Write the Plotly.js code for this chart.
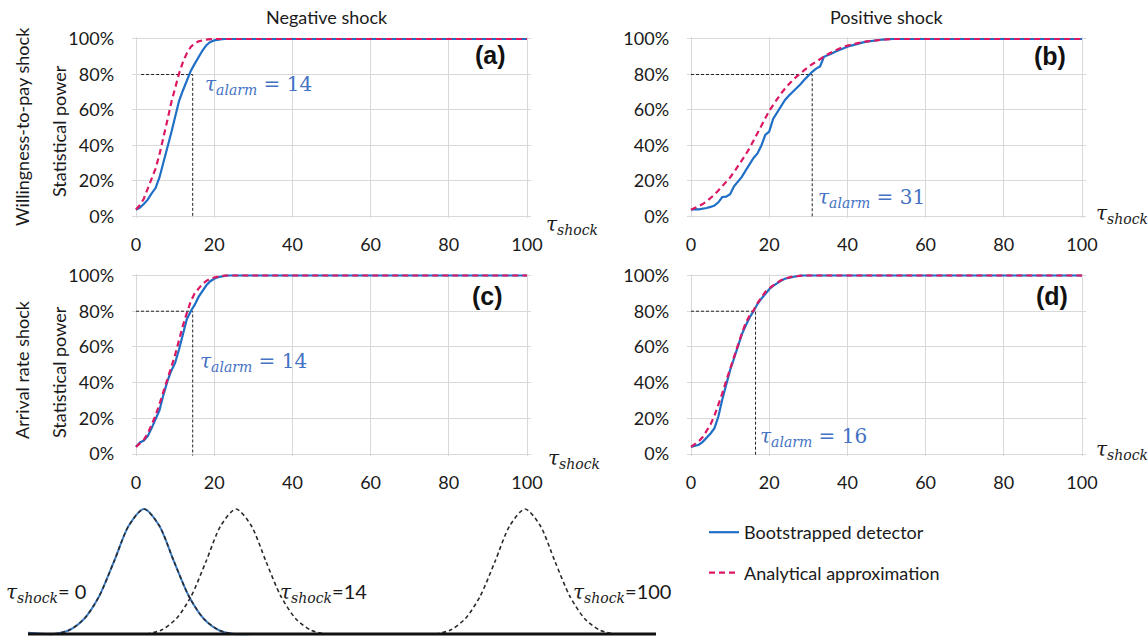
<!DOCTYPE html>
<html><head><meta charset="utf-8">
<script src="https://cdn.plot.ly/plotly-3.0.1.min.js"></script>
<style>html,body{margin:0;padding:0;background:#fff}#chart{width:1148px;height:641px}</style>
</head><body><div id="chart"></div>
<script>
// ---------- data ----------
const tau = [0,1,2,3,4,5,6,7,8,9,10,11,12,13,14,15,16,17,18,19,20,21,22,23,24,25,26,27,28,29,30,
             31,32,33,34,35,36,37,38,39,40,41,42,43,44,45,46,47,48,49,50,51,52];
const xTickVals = [0,20,40,60,80,100];
const xTickText = ['0','20','40','60','80','100'];
const yTickVals = [0,20,40,60,80,100];
const yTickText = ['0%','20%','40%','60%','80%','100%'];

// (a) willingness-to-pay, negative shock
const bootA = [3.8,5,7,9.5,13,16,22,30,38,47,56,65,71,77,82,86,90,93.5,96.5,98.3,99.2,99.7,99.9,100];
const analA = [4,6.5,10,15.5,21,27,35,44,54,64,73,80.5,87,92,95.5,97.5,98.7,99.4,99.7,99.9,100];
// (b) willingness-to-pay, positive shock
const bootB = [3.8,4.2,4.0,4.3,4.8,5.4,6.2,8,11,11.2,12.5,17,19.5,22.3,26,29.5,33,35.5,40,46,47.8,55,58.5,62,65.5,68,70,72,74.5,77,79.5,
               81.5,83.3,84.5,90,90.8,91.8,93,94,94.8,95.6,96.3,97,97.6,98.1,98.5,98.9,99.3,99.5,99.7,99.85,99.9,100];
const analB = [3.8,4.8,5.8,7,8.5,10.2,12.3,14.7,17,19.5,22,25,28.2,31.5,35,38.6,42.8,47,51,55.3,59.5,62.8,66.2,69.2,72,74.5,76.8,78.8,80.8,82.7,84.3,
               85.8,87.3,88.8,90.2,91.4,92.6,93.7,94.7,95.6,96.3,96.9,97.4,97.9,98.3,98.7,99,99.3,99.5,99.7,99.8,99.9,100];
// (c) arrival rate, negative shock
const bootC = [4,6.5,7.5,10,14.5,19.5,24.5,33,40.5,46.5,51,58.5,67,75.5,80,83.5,88,91.5,94.5,96.8,98.2,99,99.6,99.9,100];
const analC = [4,5.8,8,11.5,16.5,21.5,28,34.5,41,48.5,55.5,64,72,79,85.5,90,92.9,95.3,97,98.2,98.9,99.5,99.8,100];
// (d) arrival rate, positive shock
const bootD = [4,4.5,5.2,6.8,9,11.5,14.5,21,30.5,39.5,47,53.5,60,67,72,76.5,80,84,87,90,92.3,94.2,95.8,97,98.2,98.8,99.3,99.6,99.9,100];
const analD = [4,5.5,7.2,9.5,12.8,16.5,21.5,27.5,34,41,48,54.5,61,67.5,73.5,77.5,80.5,84.5,88,90.8,92.8,94.5,96,97.3,98.2,98.9,99.4,99.7,99.9,100];

const alarmTau = [14.5, 31, 14.5, 16.5];
const alarmLabel = [14, 31, 14, 16];
const alarmStart = [1.3, 0, 0, 0];
const alarmPower = 80;

const colTitles = ['Negative shock', 'Positive shock'];
const rowTitles = ['Willingness-to-pay shock', 'Arrival rate shock'];
const powerTitle = 'Statistical power';
const panelLetters = ['(a)', '(b)', '(c)', '(d)'];
const seriesNames = ['Bootstrapped detector', 'Analytical approximation'];

// schematic distributions (illustration units)
const bellOffset = [-90,-75,-60,-45,-30,-15,0,15,30,45,60,75,90];
const bellHeight = [0,0.03,0.12,0.3,0.58,0.87,1,0.87,0.58,0.3,0.12,0.03,0];
const bellCenters = [116, 208, 497];
const bellLabels = ['0', '14', '100'];
const baseLine = [0, 628];

// ---------- layout helpers ----------
const W = 1148, H = 641;
const px = v => v / W;
const py = v => 1 - v / H;
const BLUE = '#1f6fc6', PINK = '#dc1763', ALARM = '#4472c4';
const TXT = '#1a1a1a';
const SANS = 'Lato, "Open Sans", sans-serif';
const SERIF = '"DejaVu Serif", serif';

// panels: [x0px, x100px, y0px, y100px]
const panels = [
  [136, 527, 216.5, 39],
  [691, 1082, 216.5, 39],
  [136, 527, 454, 275.5],
  [691, 1082, 454, 275.5]
];
const boots = [bootA, bootB, bootC, bootD];
const anals = [analA, analB, analC, analD];

const traces = [];
const layout = {
  width: W, height: H,
  margin: {l: 0, r: 0, t: 0, b: 0},
  paper_bgcolor: '#fff', plot_bgcolor: '#fff',
  showlegend: true,
  legend: {
    x: px(704), y: py(514), xanchor: 'left', yanchor: 'top',
    font: {family: SANS, size: 18, color: TXT},
    bgcolor: 'rgba(0,0,0,0)', traceorder: 'grouped', tracegroupgap: 14
  },
  annotations: [], shapes: []
};

panels.forEach((p, i) => {
  const [x0, x100, y0, y100] = p;
  const sx = (x100 - x0) / 100, sy = (y0 - y100) / 100;
  const n = i + 1;
  const xa = 'xaxis' + (n === 1 ? '' : n), ya = 'yaxis' + (n === 1 ? '' : n);
  const xr = 'x' + (n === 1 ? '' : n), yr = 'y' + (n === 1 ? '' : n);
  layout[xa] = {
    domain: [px(x0 - sx), px(x100 + sx)], range: [-1, 101], anchor: yr,
    tickvals: xTickVals, ticktext: xTickText, showgrid: true, gridcolor: '#d9d9d9', gridwidth: 1,
    zeroline: false, showline: false, ticks: '', ticklabelstandoff: 14,
    tickfont: {family: SANS, size: 18, color: TXT}, fixedrange: true
  };
  layout[ya] = {
    domain: [py(y0 + sy), py(y100 - sy)], range: [-1, 101], anchor: xr,
    tickvals: yTickVals, ticktext: yTickText, showgrid: true, gridcolor: '#d9d9d9', gridwidth: 1,
    zeroline: false, showline: false, ticks: '', ticklabelstandoff: 17,
    tickfont: {family: SANS, size: 18, color: TXT}, fixedrange: true
  };
  // alarm guides
  traces.push({x: [alarmStart[i], alarmTau[i], alarmTau[i]], y: [alarmPower, alarmPower, -1],
    xaxis: xr, yaxis: yr, mode: 'lines', line: {color: '#222', width: 1, dash: '3px,2px'},
    showlegend: false, hoverinfo: 'skip'});
  const b = boots[i], a = anals[i];
  traces.push({x: tau.slice(0, b.length).concat([100]), y: b.concat([100]), xaxis: xr, yaxis: yr,
    mode: 'lines', name: seriesNames[0], legendgroup: 'g1', showlegend: i === 0,
    line: {color: BLUE, width: 2.2}});
  traces.push({x: tau.slice(0, a.length).concat([100]), y: a.concat([100]), xaxis: xr, yaxis: yr,
    mode: 'lines', name: seriesNames[1], legendgroup: 'g2', showlegend: i === 0,
    line: {color: PINK, width: 2.2, dash: '6px,4px'}});
  // tau_alarm label
  const labPos = [[17.2, 74], [31.9, 10.7], [15.9, 51.5], [17.1, 9.5]][i];
  layout.annotations.push({xref: xr, yref: yr, x: labPos[0], y: labPos[1], xanchor: 'left', yanchor: 'middle',
    text: '<i>τ<sub>alarm</sub></i> = ' + alarmLabel[i], showarrow: false,
    font: {family: SERIF, size: 20, color: ALARM}});
  // panel letter
  const letPos = [[490, 55], [1050, 56], [487, 296], [1052, 296]][i];
  layout.annotations.push({xref: 'paper', yref: 'paper', x: px(letPos[0]), y: py(letPos[1]),
    xanchor: 'center', yanchor: 'middle', text: '<b>' + panelLetters[i] + '</b>', showarrow: false,
    font: {family: '"Liberation Sans", Arial, sans-serif', size: 25, color: '#111'}});
  // tau_shock axis label
  const shPos = [[544, 225], [1094, 214], [546, 459], [1094, 450]][i];
  layout.annotations.push({xref: 'paper', yref: 'paper', x: px(shPos[0]), y: py(shPos[1]),
    xanchor: 'left', yanchor: 'middle', text: '<i>τ<sub>shock</sub></i>', showarrow: false,
    font: {family: SERIF, size: 20, color: TXT}});
});

// column and row titles
[[327, colTitles[0]], [887, colTitles[1]]].forEach(([x, t]) => layout.annotations.push({
  xref: 'paper', yref: 'paper', x: px(x), y: py(17), xanchor: 'center', yanchor: 'middle',
  text: t, showarrow: false, font: {family: SANS, size: 18, color: TXT}}));
[[22, 127, rowTitles[0]], [22, 370, rowTitles[1]], [59, 131, powerTitle], [59, 372, powerTitle]].forEach(([x, y, t]) =>
  layout.annotations.push({xref: 'paper', yref: 'paper', x: px(x), y: py(y), xanchor: 'center', yanchor: 'middle',
    textangle: -90, text: t, showarrow: false, font: {family: SANS, size: 18, color: TXT}}));

// ---------- illustration ----------
layout.xaxis5 = {domain: [px(28), px(656)], range: [0, 628], visible: false, anchor: 'y5', fixedrange: true};
layout.yaxis5 = {domain: [py(640), py(503)], range: [-0.048, 1.048], visible: false, anchor: 'x5', fixedrange: true};
// solid blue version of the first distribution (with flat tails)
const c0 = bellCenters[0];
traces.push({x: [0].concat(bellOffset.map(o => c0 + o), [c0 + 108]), y: [0.01].concat(bellHeight, [0]),
  xaxis: 'x5', yaxis: 'y5', mode: 'lines', line: {color: '#3f7fca', width: 2, shape: 'spline', smoothing: 0.8},
  showlegend: false, hoverinfo: 'skip'});
bellCenters.forEach((c, k) => {
  traces.push({x: bellOffset.map(o => c + o), y: bellHeight, xaxis: 'x5', yaxis: 'y5', mode: 'lines',
    line: {color: '#2a2a2a', width: 1.6, dash: '4px,3px', shape: 'spline', smoothing: 0.8},
    showlegend: false, hoverinfo: 'skip'});
});
traces.push({x: baseLine, y: [0, 0], xaxis: 'x5', yaxis: 'y5', mode: 'lines',
  line: {color: '#111', width: 3}, showlegend: false, hoverinfo: 'skip'});
const bellLabPos = [[60, 'right'], [250, 'left'], [543, 'left']];
bellLabels.forEach((t, k) => layout.annotations.push({xref: 'x5', yref: 'y5', x: bellLabPos[k][0], y: 0.33,
  xanchor: bellLabPos[k][1], yanchor: 'middle', showarrow: false,
  text: '<i>τ<sub>shock</sub></i><span style="font-family:Lato">=' + (k === 0 ? ' ' : '') + t + '</span>',
  font: {family: SERIF, size: 20, color: TXT}}));

Plotly.newPlot('chart', traces, layout, {displayModeBar: false, staticPlot: true});
</script></body></html>
